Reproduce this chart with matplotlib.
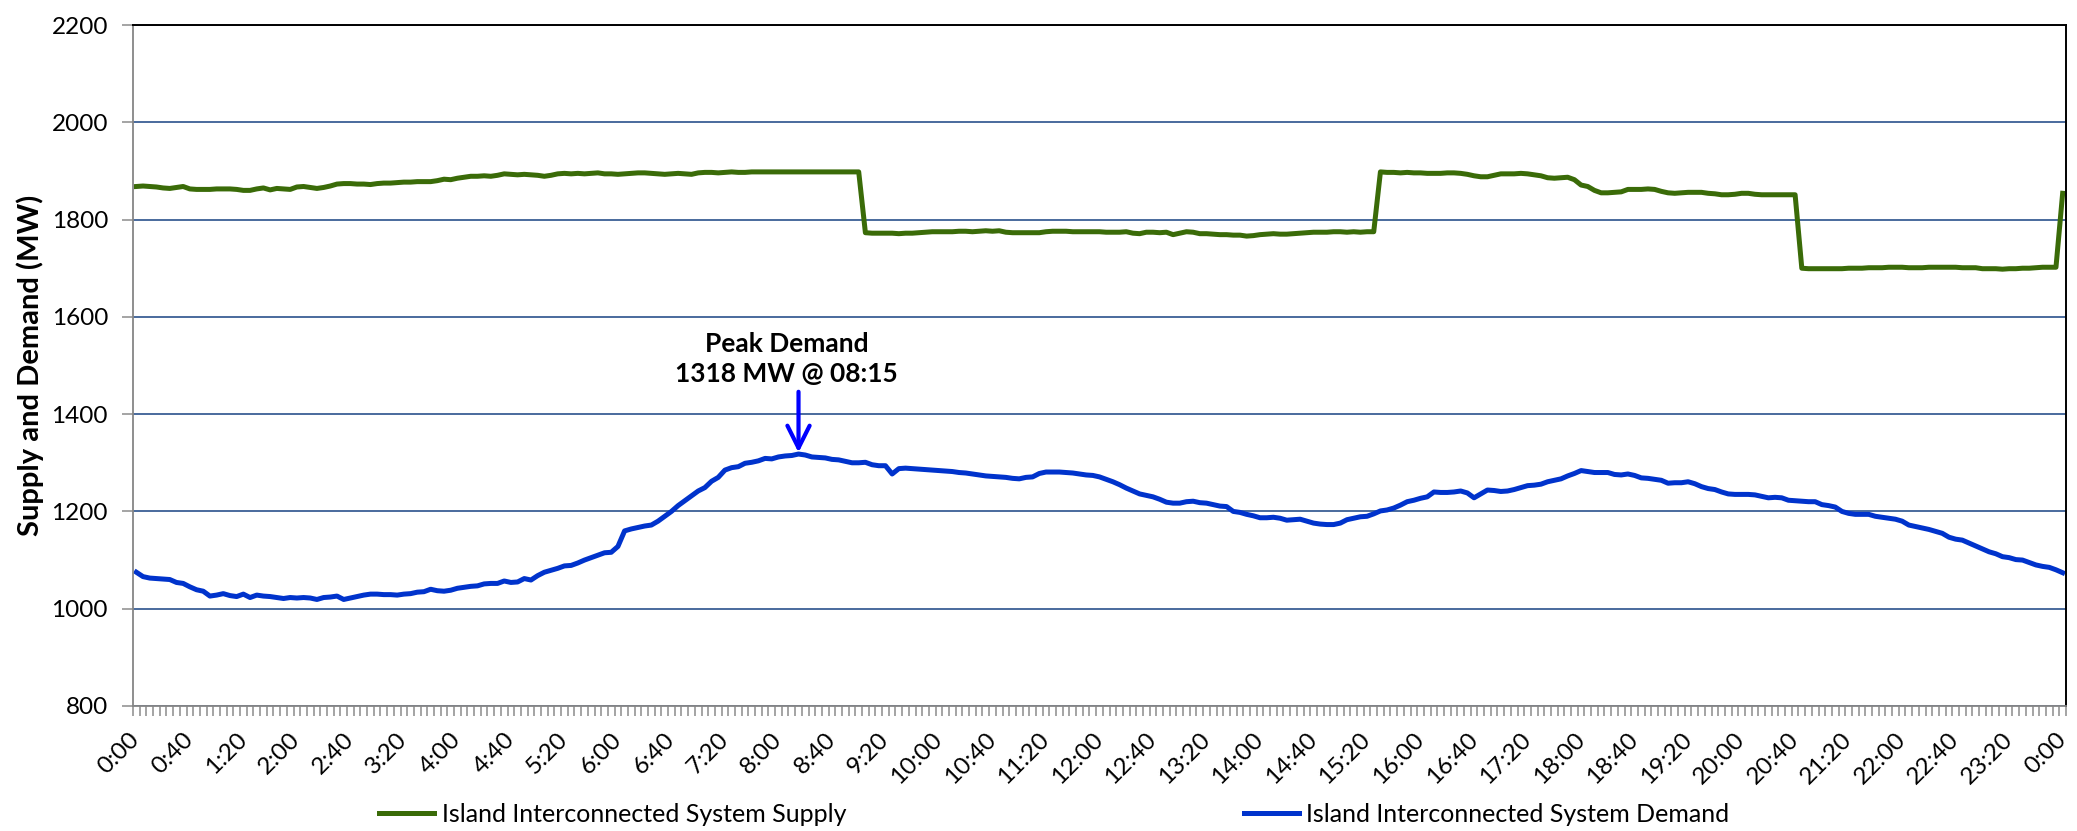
import numpy as np
import matplotlib
matplotlib.use('Agg')
import matplotlib.pyplot as plt

plt.rcParams['font.family'] = ['Lato', 'DejaVu Sans']

# Island interconnected system, 5 minute readings 0:00 .. 0:00 (MW)
supply = [
    1868, 1869, 1868, 1867, 1865, 1864, 1866, 1868, 1863, 1862, 1862, 1862,
    1863, 1863, 1863, 1862, 1860, 1860, 1863, 1865, 1861, 1864, 1863, 1862,
    1867, 1868, 1866, 1864, 1866, 1869, 1873, 1874, 1874, 1873, 1873, 1872,
    1874, 1875, 1875, 1876, 1877, 1877, 1878, 1878, 1878, 1880, 1883, 1882,
    1885, 1887, 1889, 1889, 1890, 1889, 1891, 1894, 1893, 1892, 1893, 1892,
    1891, 1889, 1891, 1894, 1895, 1894, 1895, 1894, 1895, 1896, 1894, 1894,
    1893, 1894, 1895, 1896, 1896, 1895, 1894, 1893, 1894, 1895, 1894, 1893,
    1896, 1897, 1897, 1896, 1897, 1898, 1897, 1897, 1898, 1898, 1898, 1898,
    1898, 1898, 1898, 1898, 1898, 1898, 1898, 1898, 1898, 1898, 1898, 1898,
    1898, 1773, 1772, 1772, 1772, 1772, 1771, 1772, 1772, 1773, 1774, 1775,
    1775, 1775, 1775, 1776, 1776, 1775, 1776, 1777, 1776, 1777, 1774, 1773,
    1773, 1773, 1773, 1773, 1775, 1776, 1776, 1776, 1775, 1775, 1775, 1775,
    1775, 1774, 1774, 1774, 1775, 1772, 1771, 1774, 1774, 1773, 1774, 1769,
    1772, 1775, 1774, 1771, 1771, 1770, 1769, 1769, 1768, 1768, 1766, 1767,
    1769, 1770, 1771, 1770, 1770, 1771, 1772, 1773, 1774, 1774, 1774, 1775,
    1775, 1774, 1775, 1774, 1775, 1775, 1898, 1897, 1897, 1896, 1897, 1896,
    1896, 1895, 1895, 1895, 1896, 1896, 1895, 1893, 1890, 1888, 1888, 1891,
    1894, 1894, 1894, 1895, 1894, 1892, 1890, 1886, 1885, 1886, 1887, 1882,
    1871, 1868, 1860, 1855, 1855, 1856, 1857, 1862, 1862, 1862, 1863, 1862,
    1858, 1855, 1854, 1855, 1856, 1856, 1856, 1854, 1853, 1851, 1851, 1852,
    1854, 1854, 1852, 1851, 1851, 1851, 1851, 1851, 1851, 1700, 1699, 1699,
    1699, 1699, 1699, 1699, 1700, 1700, 1700, 1701, 1701, 1701, 1702, 1702,
    1702, 1701, 1701, 1701, 1702, 1702, 1702, 1702, 1702, 1701, 1701, 1701,
    1699, 1699, 1699, 1698, 1699, 1699, 1700, 1700, 1701, 1702, 1702, 1702,
    1854,
]

demand = [
    1075, 1066, 1063, 1062, 1061, 1060, 1054, 1052, 1045, 1039, 1036, 1026,
    1028, 1031, 1027, 1025, 1030, 1023, 1028, 1026, 1025, 1023, 1021, 1023,
    1022, 1023, 1022, 1019, 1023, 1024, 1026, 1019, 1022, 1025, 1028, 1030,
    1030, 1029, 1029, 1028, 1030, 1031, 1034, 1035, 1040, 1037, 1036, 1038,
    1042, 1044, 1046, 1047, 1051, 1052, 1052, 1057, 1054, 1055, 1062, 1059,
    1068, 1075, 1079, 1083, 1088, 1089, 1094, 1100, 1105, 1110, 1115, 1116,
    1128, 1160, 1164, 1167, 1170, 1172, 1180, 1190, 1200, 1212, 1222, 1232,
    1242, 1249, 1262, 1270, 1285, 1290, 1292, 1299, 1301, 1304, 1309, 1308,
    1312, 1314, 1315, 1318, 1316, 1312, 1311, 1310, 1307, 1306, 1303, 1300,
    1300, 1301, 1296, 1294, 1294, 1277, 1288, 1289, 1288, 1287, 1286, 1285,
    1284, 1283, 1282, 1280, 1279, 1277, 1275, 1273, 1272, 1271, 1270, 1268,
    1267, 1270, 1271, 1278, 1281, 1281, 1281, 1280, 1279, 1277, 1275, 1274,
    1271, 1266, 1261, 1255, 1248, 1242, 1236, 1233, 1230, 1225, 1219, 1217,
    1217, 1220, 1221, 1218, 1217, 1214, 1211, 1210, 1200, 1198, 1194, 1191,
    1187, 1187, 1188, 1186, 1182, 1183, 1184, 1180, 1176, 1174, 1173, 1173,
    1176, 1183, 1186, 1189, 1190, 1195, 1201, 1203, 1207, 1213, 1220, 1223,
    1227, 1230, 1240, 1239, 1239, 1240, 1242, 1238, 1228, 1236, 1244, 1243,
    1241, 1242, 1245, 1249, 1253, 1254, 1256, 1261, 1264, 1267, 1273, 1278,
    1284, 1282, 1280, 1280, 1280, 1276, 1275, 1277, 1274, 1269, 1268, 1266,
    1264, 1258, 1259, 1259, 1261, 1257, 1251, 1247, 1245, 1240, 1236, 1235,
    1235, 1235, 1234, 1231, 1228, 1229, 1228, 1223, 1222, 1221, 1220, 1220,
    1214, 1212, 1209, 1200, 1196, 1194, 1194, 1194, 1190, 1188, 1186, 1184,
    1180, 1172, 1169, 1166, 1163, 1159, 1155, 1147, 1143, 1141, 1135, 1129,
    1123, 1117, 1113, 1107, 1105, 1101, 1100, 1095, 1090, 1087, 1085, 1080,
    1074,
]

series_names = ['Island Interconnected System Supply',
                'Island Interconnected System Demand']

minutes = np.arange(len(demand)) * 5
time_labels = ['%d:%02d' % ((m // 60) % 24, m % 60) for m in minutes]

W, H = 2077, 831
fig = plt.figure(figsize=(W / 100, H / 100), dpi=100)
ax = fig.add_axes([133 / W, 1 - 706 / H, (2066 - 133) / W, (706 - 25) / H])

green = '#3A6B08'
blue = '#0033CC'

l1, = ax.plot(minutes, supply, color=green, lw=3.6, solid_joinstyle='round')
l2, = ax.plot(minutes, demand, color=blue, lw=3.6, solid_joinstyle='round')

ax.set_xlim(-2.5, minutes[-1] + 2.5)
ax.set_ylim(800, 2200)
ax.set_yticks(range(800, 2201, 200))
ax.grid(axis='y', color='#3A5F95', lw=1.3)
ax.set_axisbelow(True)

# labels every 40 minutes, tick marks between categories
ax.set_xticks(minutes[::8])
ax.set_xticklabels(time_labels[::8])
ax.set_xticks(np.arange(-2.5, minutes[-1] + 5, 5), minor=True)
for lbl in ax.get_xticklabels():
    lbl.set_rotation(45)
    lbl.set_ha('right')
    lbl.set_va('center')
    lbl.set_rotation_mode('anchor')
ax.tick_params(axis='x', which='major', length=0, pad=22, labelsize=17.5)
ax.tick_params(axis='x', which='minor', length=7, width=1.1,
               color='#8C8C8C', direction='out')
ax.tick_params(axis='y', length=8, width=1.1, color='#8C8C8C',
               pad=10, labelsize=17.5)

for s in ['left', 'bottom']:
    ax.spines[s].set_color('#868686')
    ax.spines[s].set_linewidth(1.3)
for s in ['top', 'right']:
    ax.spines[s].set_color('black')
    ax.spines[s].set_linewidth(1.4)

ax.set_ylabel('Supply and Demand (MW)', fontsize=21, fontweight='bold')
ax.yaxis.set_label_coords(-0.046, 0.5)

# peak annotation
pk = int(np.argmax(demand))
ax.text(486, 1513, 'Peak Demand\n%d MW @ %02d:%02d' % (demand[pk], minutes[pk] // 60, minutes[pk] % 60),
        ha='center', va='center', fontsize=19, fontweight='bold', linespacing=1.3)
ax.annotate('', xy=(minutes[pk], demand[pk] + 3), xytext=(minutes[pk], 1446),
            arrowprops=dict(arrowstyle='->,head_length=0.8,head_width=0.4',
                            color='#0000FF', lw=3, mutation_scale=20,
                            shrinkA=0, shrinkB=0))

# legend, two entries spread along the bottom
for h, name, x0 in [(l1, series_names[0], 379), (l2, series_names[1], 1244)]:
    fig.legend(handles=[h], labels=[name], loc='center left',
               bbox_to_anchor=(x0 / W, 1 - 814 / H), frameon=False,
               fontsize=18, handlelength=2.2, handletextpad=0.3,
               borderpad=0, borderaxespad=0)

fig.savefig('out.png', dpi=100)
